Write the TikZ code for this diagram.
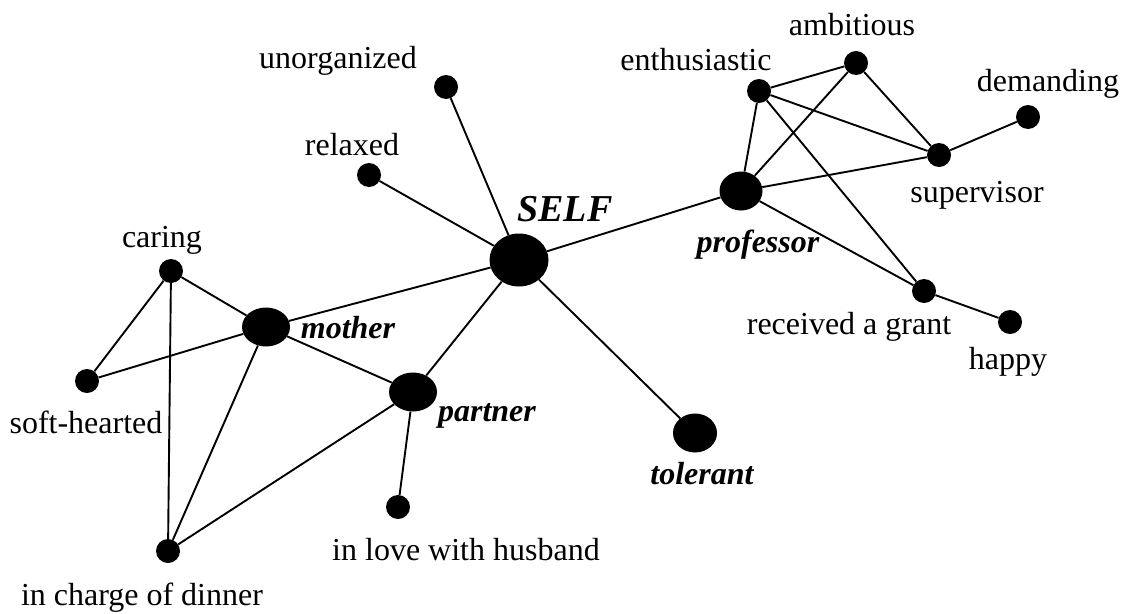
\documentclass[tikz,border=0pt]{standalone}
\usepackage{fontspec}
\setmainfont{Liberation Serif}
\usetikzlibrary{shapes.geometric}
\tikzset{
  dot/.style={circle,fill=black,inner sep=0pt,minimum size=24pt},
  lbl/.style={inner sep=0pt,font=\fontsize{32}{38}\selectfont},
  blbl/.style={inner sep=0pt,font=\fontsize{32}{38}\selectfont\bfseries\itshape},
  edge/.style={line width=1.9pt}
}
\begin{document}
\begin{tikzpicture}[x=1pt,y=-1pt]
\useasboundingbox (0,0) rectangle (1124,613);
% main nodes
\node[ellipse,fill=black,inner sep=0pt,minimum width=59pt,minimum height=53pt] (self) at (519,260) {};
\node[ellipse,fill=black,inner sep=0pt,minimum width=43pt,minimum height=39pt] (prof) at (741,191) {};
\node[ellipse,fill=black,inner sep=0pt,minimum width=48pt,minimum height=39pt] (mother) at (266,327) {};
\node[ellipse,fill=black,inner sep=0pt,minimum width=48pt,minimum height=39pt] (partner) at (413,392) {};
\node[ellipse,fill=black,inner sep=0pt,minimum width=44pt,minimum height=39pt] (tolerant) at (695,433) {};
% small nodes
\node[dot] (unorg) at (446,87) {};
\node[dot] (relaxed) at (369,175) {};
\node[dot] (caring) at (171,271) {};
\node[dot] (soft) at (87,381) {};
\node[dot] (dinner) at (168,551) {};
\node[dot] (love) at (398,507) {};
\node[dot] (enth) at (759,91) {};
\node[dot] (amb) at (856,63) {};
\node[dot] (sup) at (939,155) {};
\node[dot] (dem) at (1028,117) {};
\node[dot] (grant) at (924,291) {};
\node[dot] (happy) at (1010,322) {};
% labels
\node[lbl] (Lunorg) at (338,61) {unorganized};
\node[lbl] (Lrelaxed) at (352,145) {relaxed};
\node[inner sep=0pt,font=\fontsize{38}{44}\selectfont\bfseries\itshape] (Lself) at (565,209) {SELF};
\node[lbl] (Lcaring) at (162,240) {caring};
\node[blbl] (Lmother) at (348,328) {mother};
\node[lbl] (Lsoft) at (86,422) {soft-hearted};
\node[blbl] (Lpartner) at (487,416) {partner};
\node[blbl] (Ltolerant) at (702,474) {tolerant};
\node[lbl] (Llove) at (466,550) {in love with husband};
\node[lbl] (Ldinner) at (142,598) {in charge of dinner};
\node[lbl] (Lenth) at (696,60) {enthusiastic};
\node[lbl] (Lamb) at (852,25) {ambitious};
\node[lbl] (Ldem) at (1048,84) {demanding};
\node[lbl] (Lsup) at (977,195) {supervisor};
\node[blbl] (Lprof) at (758,245) {professor};
\node[lbl] (Lgrant) at (849,327) {received a grant};
\node[lbl] (Lhappy) at (1008,362) {happy};
% edges
\draw[edge] (self) -- (unorg);
\draw[edge] (self) -- (relaxed);
\draw[edge] (self) -- (prof);
\draw[edge] (self) -- (mother);
\draw[edge] (self) -- (partner);
\draw[edge] (self) -- (tolerant);
\draw[edge] (caring) -- (mother);
\draw[edge] (caring) -- (soft);
\draw[edge] (caring) -- (dinner);
\draw[edge] (mother) -- (soft);
\draw[edge] (mother) -- (partner);
\draw[edge] (mother) -- (dinner);
\draw[edge] (partner) -- (dinner);
\draw[edge] (partner) -- (love);
\draw[edge] (prof) -- (enth);
\draw[edge] (prof) -- (amb);
\draw[edge] (prof) -- (sup);
\draw[edge] (prof) -- (grant);
\draw[edge] (enth) -- (amb);
\draw[edge] (enth) -- (sup);
\draw[edge] (enth) -- (grant);
\draw[edge] (amb) -- (sup);
\draw[edge] (sup) -- (dem);
\draw[edge] (grant) -- (happy);
\end{tikzpicture}
\end{document}
